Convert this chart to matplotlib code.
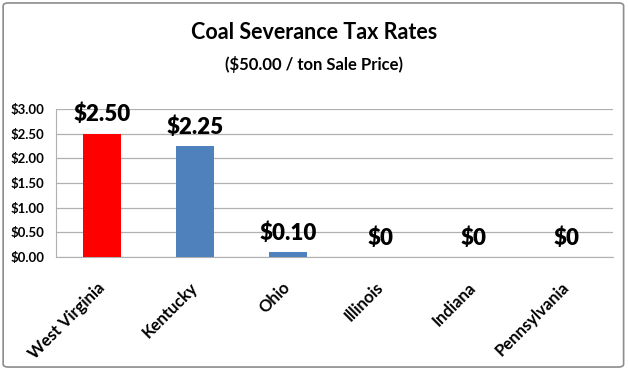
import matplotlib
matplotlib.use("Agg")
import matplotlib.pyplot as plt
from matplotlib.patches import FancyBboxPatch
from matplotlib.ticker import FuncFormatter, MultipleLocator

states = ["West Virginia", "Kentucky", "Ohio", "Illinois", "Indiana", "Pennsylvania"]
rates = [2.50, 2.25, 0.10, 0.0, 0.0, 0.0]
value_labels = ["$2.50", "$2.25", "$0.10", "$0", "$0", "$0"]
bar_colors = ["#FF0000", "#4F81BD", "#4F81BD", "#4F81BD", "#4F81BD", "#4F81BD"]
title = "Coal Severance Tax Rates"
subtitle = "($50.00 / ton Sale Price)"

plt.rcParams['font.family'] = ['Lato', 'DejaVu Sans']

fig = plt.figure(figsize=(6.28, 3.70), dpi=100)
ax = fig.add_axes([0.089, 0.305, 0.887, 0.40])

x = range(len(states))
ax.bar(x, rates, width=0.41, color=bar_colors, zorder=3)
for xi, v, lab in zip(x, rates, value_labels):
    ax.annotate(lab, (xi, v), xytext=(0, 6), textcoords="offset points",
                ha="center", va="bottom", fontsize=16, fontweight="heavy", zorder=4)

ax.set_xlim(-0.5, len(states) - 0.5)
ax.set_ylim(0, 3.0)
ax.yaxis.set_major_locator(MultipleLocator(0.5))
ax.yaxis.set_major_formatter(FuncFormatter(lambda v, p: f"${v:.2f}"))
ax.grid(axis="y", color="#B0B0B0", linewidth=0.9, zorder=0)
ax.set_axisbelow(True)
for s in ["top", "right"]:
    ax.spines[s].set_visible(False)
ax.spines["left"].set_color("#B0B0B0")
ax.spines["bottom"].set_color("#B0B0B0")
ax.tick_params(axis="y", length=0, labelsize=9.5, pad=8.5)
ax.tick_params(axis="x", length=0, pad=20)
for lbl in ax.get_yticklabels():
    lbl.set_fontweight("bold")
ax.set_xticks(list(x))
ax.set_xticklabels(states, rotation=45, ha="right", va="center", rotation_mode="anchor",
                   fontsize=12, fontweight="bold")

fig.text(0.5, 0.913, title, ha="center", va="center", fontsize=15.5, fontweight="bold")
fig.text(0.5, 0.827, subtitle, ha="center", va="center", fontsize=12, fontweight="bold")

border = FancyBboxPatch((0.005, 0.008), 0.988, 0.984, boxstyle="round,pad=0,rounding_size=0.008",
                        transform=fig.transFigure, facecolor="none", edgecolor="#8C8C8C",
                        linewidth=1.2)
fig.patches.append(border)

fig.savefig("out.png", dpi=100)
